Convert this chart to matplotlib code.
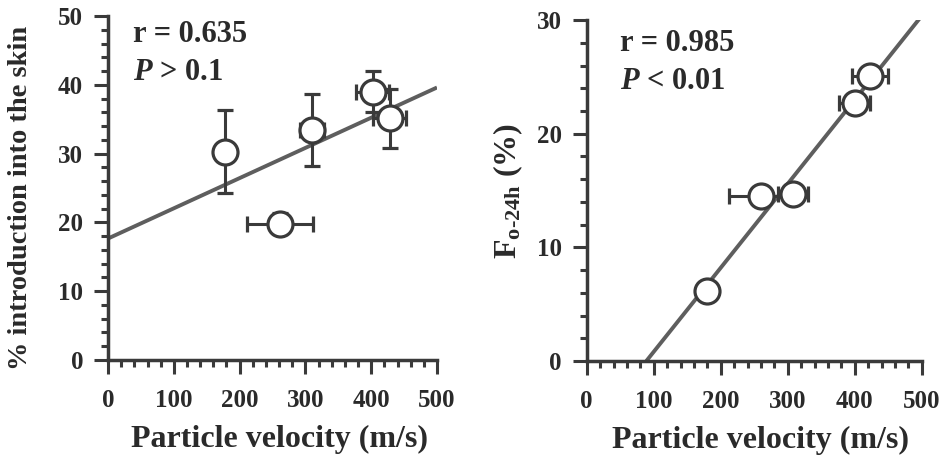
import numpy as np
import matplotlib
matplotlib.use("Agg")
import matplotlib.pyplot as plt
from matplotlib.ticker import MultipleLocator

# Left panel: % introduction into the skin vs particle velocity
vel_left = [178, 261, 310, 402, 428]
vel_err_left = [0, 50, 18, 25, 25]
intro = [30.3, 19.8, 33.4, 39.0, 35.1]
intro_err = [6.0, 1.5, 5.2, 3.0, 4.3]

# Right panel: F o-24h (%) vs particle velocity
vel_right = [180, 260, 308, 400, 423]
vel_err_right = [0, 47, 23, 23, 27]
f24 = [6.2, 14.5, 14.7, 22.7, 25.1]
f24_err = [0, 0, 0, 0, 0]

stats_left = ["r = 0.635", "P", " > 0.1"]
stats_right = ["r = 0.985", "P", " < 0.01"]

plt.rcParams["font.family"] = ["Liberation Serif", "DejaVu Serif"]
plt.rcParams["font.weight"] = "bold"
plt.rcParams["axes.labelweight"] = "bold"
plt.rcParams["mathtext.fontset"] = "custom"
plt.rcParams["mathtext.rm"] = "Liberation Serif:bold"
plt.rcParams["mathtext.bf"] = "Liberation Serif:bold"
plt.rcParams["mathtext.it"] = "Liberation Serif:bold:italic"

INK = "#3a3a3a"
LINE = "#5e5e5e"
TXT = "#2a2a2a"

fig = plt.figure(figsize=(9.41, 4.62), dpi=100)
ax1 = fig.add_axes([0.1148, 0.2208, 0.3496, 0.7446])
ax2 = fig.add_axes([0.6235, 0.2186, 0.356, 0.738])


def style(ax, ymax):
    ax.set_xlim(0, 500)
    ax.set_ylim(0, ymax)
    for s in ["top", "right"]:
        ax.spines[s].set_visible(False)
    for s in ["left", "bottom"]:
        ax.spines[s].set_linewidth(2.5)
        ax.spines[s].set_color(INK)
    ax.xaxis.set_major_locator(MultipleLocator(100))
    ax.xaxis.set_minor_locator(MultipleLocator(20))
    ax.yaxis.set_major_locator(MultipleLocator(10))
    ax.yaxis.set_minor_locator(MultipleLocator(2))
    ax.tick_params(which="major", length=10, width=2.2, color=INK,
                   labelsize=18, labelcolor=TXT)
    ax.tick_params(which="minor", length=5, width=2.2, color=INK)
    ax.tick_params(axis="x", which="major", pad=11)
    ax.tick_params(axis="y", which="major", pad=8)
    ax.set_xlabel("Particle velocity (m/s)", fontsize=23, color=TXT)
    ax.xaxis.set_label_coords(0.52, -0.19)


def panel(ax, x, xerr, y, yerr, clip_zero):
    m, b = np.polyfit(x, y, 1)
    x0 = max(0.0, -b / m) if clip_zero else 0.0
    xs = np.array([x0, 500.0])
    ax.plot(xs, m * xs + b, color=LINE, lw=2.8, zorder=2, solid_capstyle="butt")
    ax.errorbar(x, y, xerr=xerr, yerr=yerr, fmt="o", ms=18, mfc="white",
                mec=INK, mew=2.3, ecolor=INK, elinewidth=2.2, capsize=6,
                capthick=2.2, zorder=3)


def stats(ax, x, y, lines):
    ax.text(x, y, lines[0], transform=ax.transAxes, fontsize=22,
            va="center", color=TXT)
    ax.text(x, y - 0.11, "$\\mathit{" + lines[1] + "}$" + lines[2],
            transform=ax.transAxes, fontsize=22, va="center", color=TXT)


style(ax1, 50)
panel(ax1, vel_left, vel_err_left, intro, intro_err, False)
ax1.set_ylabel("% introduction into the skin", fontsize=20.5, color=TXT)
ax1.yaxis.set_label_coords(-0.228, 0.47)
stats(ax1, 0.075, 0.945, stats_left)

style(ax2, 30)
panel(ax2, vel_right, vel_err_right, f24, f24_err, True)
ax2.set_ylabel("F$_{\\mathrm{o\u2010}24\\mathrm{h}}$ (%)", fontsize=23,
               color=TXT)
ax2.yaxis.set_label_coords(-0.184, 0.5)
stats(ax2, 0.1, 0.93, stats_right)

fig.savefig("out.png", dpi=100)
